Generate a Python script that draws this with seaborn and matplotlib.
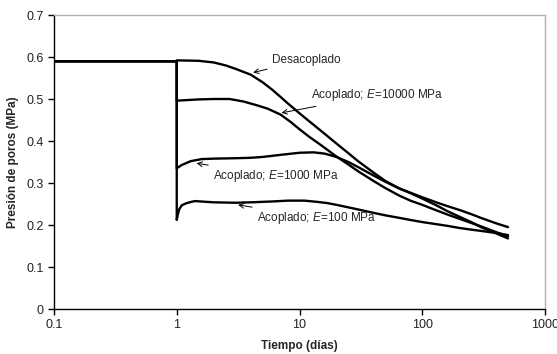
import numpy as np
import pandas as pd
import matplotlib
matplotlib.use("Agg")
import matplotlib.pyplot as plt
import seaborn as sns

# ---- data (days, MPa) ----
pre_t = [0.1, 1.0]
pre_p = [0.59, 0.59]

des_t = [1, 1.5, 2, 2.5, 3, 4, 5, 6, 7, 8, 10, 12, 15, 20, 25, 30, 40, 50, 65, 80,
         100, 130, 160, 200, 250, 300, 400, 500]
des_p = [0.592, 0.591, 0.587, 0.580, 0.572, 0.558, 0.540, 0.522, 0.505, 0.490, 0.466,
         0.447, 0.424, 0.394, 0.371, 0.352, 0.325, 0.305, 0.287, 0.276, 0.263, 0.247,
         0.233, 0.220, 0.207, 0.195, 0.180, 0.168]

e10000_t = [1, 1.5, 2, 2.7, 3.5, 4.5, 5.5, 7, 8.5, 10, 12, 15, 20, 25, 30, 40, 50, 65,
            80, 100, 130, 160, 200, 250, 300, 400, 500]
e10000_p = [0.496, 0.499, 0.500, 0.500, 0.494, 0.485, 0.477, 0.463, 0.445, 0.428, 0.410,
            0.390, 0.363, 0.344, 0.328, 0.305, 0.288, 0.270, 0.258, 0.248, 0.235, 0.225,
            0.215, 0.205, 0.197, 0.183, 0.173]

e1000_t = [1, 1.1, 1.3, 1.6, 2, 3, 4, 5, 7, 10, 13, 16, 20, 25, 30, 40, 50, 65, 80,
           100, 130, 160, 200, 250, 300, 400, 500]
e1000_p = [0.335, 0.343, 0.352, 0.357, 0.358, 0.359, 0.360, 0.362, 0.367, 0.372, 0.373,
           0.370, 0.362, 0.350, 0.338, 0.318, 0.303, 0.287, 0.277, 0.266, 0.254, 0.245,
           0.236, 0.226, 0.217, 0.204, 0.195]

e100_t = [1, 1.02, 1.05, 1.1, 1.2, 1.4, 2, 3, 4, 6, 8, 11, 14, 17, 20, 25, 30, 40, 50,
          65, 80, 100, 130, 160, 200, 250, 300, 400, 500]
e100_p = [0.212, 0.225, 0.238, 0.247, 0.252, 0.257, 0.254, 0.253, 0.254, 0.256, 0.258,
          0.258, 0.255, 0.252, 0.248, 0.242, 0.237, 0.229, 0.223, 0.217, 0.212, 0.207,
          0.202, 0.198, 0.193, 0.189, 0.186, 0.181, 0.176]

series = {
    "Desacoplado": (des_t, des_p),
    "E10000": (e10000_t, e10000_p),
    "E1000": (e1000_t, e1000_p),
    "E100": (e100_t, e100_p),
}

yticks = [0, 0.1, 0.2, 0.3, 0.4, 0.5, 0.6, 0.7]
ytick_labels = ["0", "0.1", "0.2", "0.3", "0.4", "0.5", "0.6", "0.7"]
xticks = [0.1, 1, 10, 100, 1000]
xtick_labels = ["0.1", "1", "10", "100", "1000"]

sns.set_style("white")
plt.rcParams["font.family"] = ["Liberation Sans", "DejaVu Sans"]
plt.rcParams["mathtext.fontset"] = "custom"
plt.rcParams["mathtext.rm"] = "Liberation Sans"
plt.rcParams["mathtext.it"] = "Liberation Sans:italic"

fig, ax = plt.subplots(figsize=(5.57, 3.54), dpi=100)
fig.subplots_adjust(left=54/557, right=545/557, top=1-15/354, bottom=1-309/354)

for name, (t, p) in series.items():
    df = pd.DataFrame({"t": pre_t + list(t), "p": pre_p + list(p)})
    sns.lineplot(data=df, x="t", y="p", ax=ax, color="black", lw=1.7,
                 sort=False, estimator=None)

ax.set_xscale("log")
ax.set_xlim(0.1, 1000)
ax.set_ylim(0, 0.7)
ax.set_xticks(xticks)
ax.set_xticklabels(xtick_labels)
ax.set_yticks(yticks)
ax.set_yticklabels(ytick_labels)
ax.minorticks_off()
ax.tick_params(axis="both", which="major", direction="out", length=4, width=1,
               labelsize=9, color="black", labelcolor="#222222",
               bottom=True, left=True)
ax.set_xlabel("Tiempo (días)", fontsize=8.5, fontweight="bold", labelpad=6)
ax.set_ylabel("Presión de poros (MPa)", fontsize=8.5, fontweight="bold", labelpad=5)

for s in ["left", "bottom"]:
    ax.spines[s].set_color("black")
    ax.spines[s].set_linewidth(1)
for s in ["top", "right"]:
    ax.spines[s].set_color("#b0b0b0")
    ax.spines[s].set_linewidth(1)

arrow = dict(arrowstyle="->", color="black", lw=0.7, shrinkA=1, shrinkB=0)
fs = 8.5
ax.annotate("Desacoplado", xy=(4.19, 0.563), xytext=(5.94, 0.593),
            fontsize=fs, ha="left", va="center", arrowprops=arrow)
ax.annotate("Acoplado; $E$=10000 MPa", xy=(7.13, 0.467), xytext=(12.4, 0.51),
            fontsize=fs, ha="left", va="center", arrowprops=arrow)
ax.annotate("Acoplado; $E$=1000 MPa", xy=(1.45, 0.347), xytext=(1.97, 0.317),
            fontsize=fs, ha="left", va="center", arrowprops=arrow)
ax.annotate("Acoplado; $E$=100 MPa", xy=(3.16, 0.248), xytext=(4.49, 0.217),
            fontsize=fs, ha="left", va="center", arrowprops=arrow)

fig.savefig("out.png", dpi=100)
